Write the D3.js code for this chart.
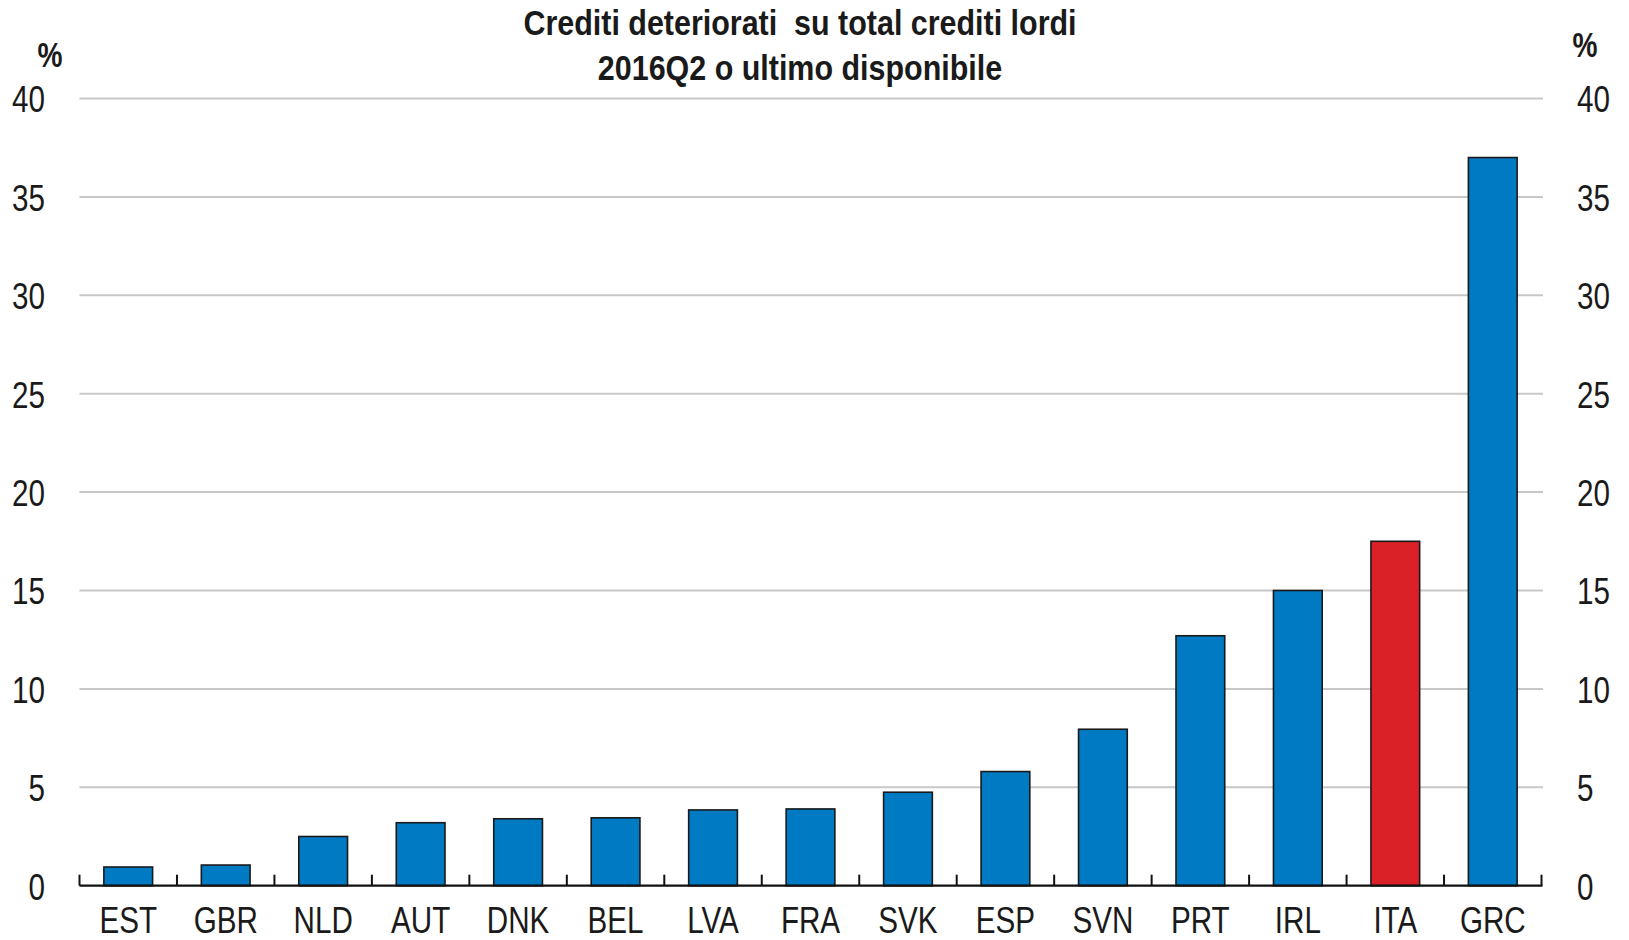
<!DOCTYPE html>
<html>
<head>
<meta charset="utf-8">
<script src="https://cdn.jsdelivr.net/npm/d3@7"></script>
<style>
  html, body { margin: 0; padding: 0; background: #fff; }
  svg { display: block; }
  text { font-family: "Liberation Sans Narrow", "Arial Narrow", "Liberation Sans", Arial, sans-serif; white-space: pre; }
</style>
</head>
<body>
<svg id="chart" width="1629" height="940"></svg>
<script>
const categories = ["EST","GBR","NLD","AUT","DNK","BEL","LVA","FRA","SVK","ESP","SVN","PRT","IRL","ITA","GRC"];
const values     = [0.95, 1.05, 2.5, 3.2, 3.4, 3.45, 3.85, 3.9, 4.75, 5.8, 7.95, 12.7, 15.0, 17.5, 37.0];
const highlight  = ["ITA"];
const yTicks     = [0, 5, 10, 15, 20, 25, 30, 35, 40];
const titleLines = ["Crediti deteriorati  su total crediti lordi", "2016Q2 o ultimo disponibile"];
const unitLabel  = "%";

(function () {
const svg = d3.select("#chart");
const mLeft = 79.5, mRight = 1541.5, mTop = 98.5, mBottom = 885.7;
const narrowAxis = 0.8, narrowTitle = 0.87, narrowUnit = 0.78;

const x = d3.scaleBand().domain(categories).range([mLeft, mRight]).paddingInner(0.5).paddingOuter(0.25);
const y = d3.scaleLinear().domain([0, 40]).range([mBottom, mTop]);

// gridlines
svg.append("g").selectAll("line").data(yTicks.filter(d => d > 0)).join("line")
  .attr("x1", mLeft).attr("x2", mRight + 1.5)
  .attr("y1", d => y(d)).attr("y2", d => y(d))
  .attr("stroke", "#c8c8c8").attr("stroke-width", 2);

// bars
svg.append("g").selectAll("rect").data(categories.map((c, i) => ({c, v: values[i]}))).join("rect")
  .attr("x", d => x(d.c)).attr("width", x.bandwidth())
  .attr("y", d => y(d.v)).attr("height", d => y(0) - y(d.v))
  .attr("fill", d => highlight.includes(d.c) ? "#da2128" : "#007ac2")
  .attr("stroke", "#1a1a1a").attr("stroke-width", 1.6);

// x axis line
svg.append("line").attr("x1", mLeft).attr("x2", mRight + 1)
  .attr("y1", y(0)).attr("y2", y(0)).attr("stroke", "#111").attr("stroke-width", 2.2);

// x tick marks at band boundaries
const bounds = categories.map(c => x(c) - x.step() * x.paddingInner() / 2).concat([mRight]);
svg.append("g").selectAll("line").data(bounds).join("line")
  .attr("x1", d => d).attr("x2", d => d)
  .attr("y1", y(0)).attr("y2", y(0) - 11)
  .attr("stroke", "#111").attr("stroke-width", 2);

// x labels
svg.append("g").selectAll("g").data(categories).join("g")
  .attr("transform", d => `translate(${x(d) + x.bandwidth() / 2},933)`)
  .append("text")
  .attr("transform", `scale(${narrowAxis},1)`)
  .attr("text-anchor", "middle").attr("font-size", 37).attr("fill", "#1a1a1a")
  .text(d => d);

// y axes (left & right)
const yAxisL = d3.axisLeft(y).tickValues(yTicks).tickSize(0).tickPadding(0);
const gL = svg.append("g").attr("transform", "translate(45,0)").call(yAxisL);
const yAxisR = d3.axisRight(y).tickValues(yTicks).tickSize(0).tickPadding(0);
const gR = svg.append("g").attr("transform", "translate(1577,0)").call(yAxisR);
[gL, gR].forEach(g => {
  g.attr("font-family", null).attr("font-size", null);
  g.select(".domain").remove();
  g.selectAll("text").attr("x", 0).attr("font-size", 37).attr("fill", "#1a1a1a")
    .attr("dy", "0.36em").attr("transform", `scale(${narrowAxis},1)`);
});

// unit labels
[[50, 67], [1585, 57]].forEach(([ux, uy]) => {
  svg.append("g").attr("transform", `translate(${ux},${uy})`)
    .append("text").attr("transform", `scale(${narrowUnit},1)`)
    .attr("text-anchor", "middle").attr("font-size", 36).attr("font-weight", "bold")
    .attr("fill", "#1a1a1a").text(unitLabel);
});

// title
svg.append("g").selectAll("g").data(titleLines).join("g")
  .attr("transform", (d, i) => `translate(800,${35 + i * 45})`)
  .append("text")
  .attr("transform", `scale(${narrowTitle},1)`)
  .attr("text-anchor", "middle").attr("font-size", 35).attr("font-weight", "bold").attr("fill", "#1a1a1a")
  .text(d => d);
})();
</script>
</body>
</html>
